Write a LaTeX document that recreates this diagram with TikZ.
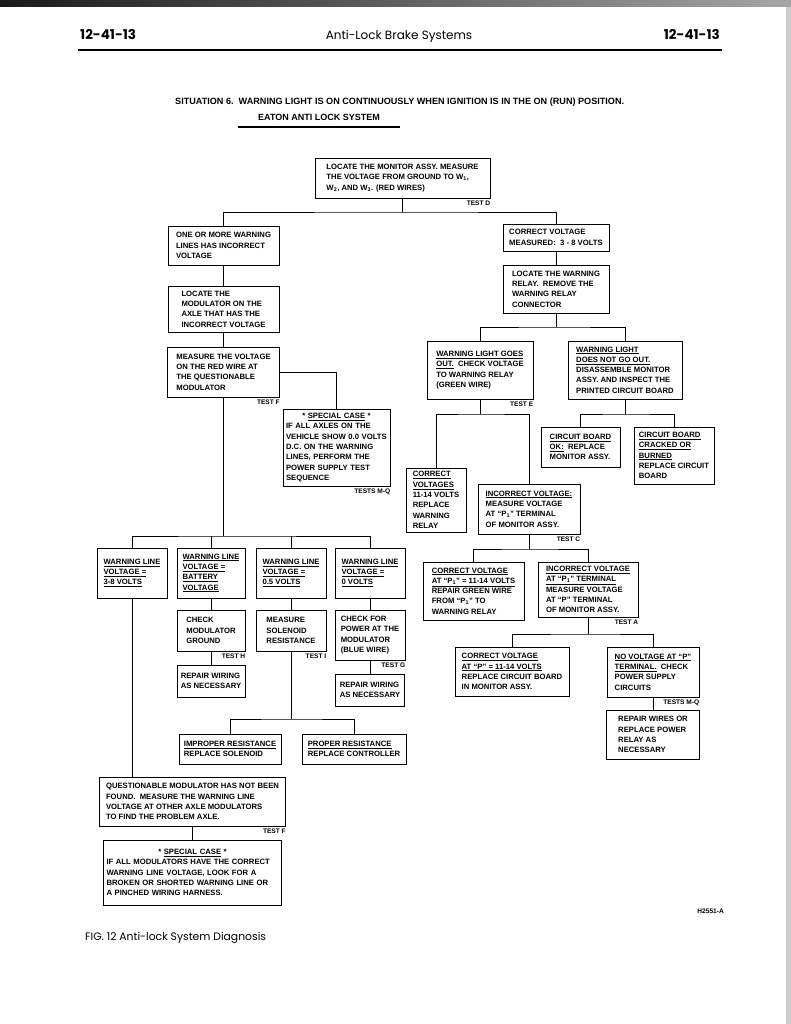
\documentclass[tikz,border=0pt]{standalone}
\usepackage{fontspec}
\setmainfont{Liberation Sans}
\newfontfamily\hdfont{Poppins}
\usetikzlibrary{positioning}
\tikzstyle{box}=[draw, line width=0.9pt, align=left, inner sep=3pt, font=\fontsize{7.7}{10.3}\selectfont\bfseries]
\tikzstyle{tst}=[inner sep=0pt, font=\fontsize{6.6}{8}\selectfont\bfseries]
\tikzstyle{wire}=[line width=0.9pt]

\begin{document}
\begin{tikzpicture}[x=1pt,y=-1pt]
    \useasboundingbox (0,0) rectangle (791,1024);
    % scan edges
    \fill[left color=black!90, right color=black!35] (0,0) rectangle (791,7);
    \fill[black!20] (786,7) rectangle (791,1024);

    % page header
    \node[anchor=base west, inner sep=0pt, font=\hdfont\fontsize{13.5}{15}\selectfont\bfseries] (pgl) at (80,40) {12-41-13};
    \node[anchor=base east, inner sep=0pt, font=\hdfont\fontsize{13.5}{15}\selectfont\bfseries] (pgr) at (720,40) {12-41-13};
    \node[anchor=base, inner sep=0pt, font=\hdfont\fontsize{12}{14}\selectfont] (hd) at (399,40) {Anti-Lock Brake Systems};
    \draw[line width=1.6pt] (78,50) -- (722,50);

    % title
    \node[anchor=base west, inner sep=0pt, font=\fontsize{9.1}{11}\selectfont\bfseries] (sit) at (175,105)
        {SITUATION 6.\ \ WARNING LIGHT IS ON CONTINUOUSLY WHEN IGNITION IS IN THE ON (RUN) POSITION.};
    \node[anchor=base west, inner sep=0pt, font=\fontsize{9}{11}\selectfont\bfseries] (eaton) at (258,121) {EATON ANTI LOCK SYSTEM};
    \draw[line width=1.3pt] (238,127) -- (400,127);

    % Test D
    \node[box, minimum width=175pt, minimum height=40pt] (top) at (402.5,178)
        {LOCATE THE MONITOR ASSY. MEASURE\\THE VOLTAGE FROM GROUND TO W\textsubscript{1},\\W\textsubscript{2}, AND W\textsubscript{3}. (RED WIRES)};
    \node[tst, below left=2pt and 0pt of top.south east] (tD) {TEST D};

    % left branch
    \node[box, minimum width=111pt, minimum height=39pt] (onemore) at (223.5,245.5)
        {ONE OR MORE WARNING\\LINES HAS INCORRECT\\VOLTAGE};
    \node[box, minimum width=111pt, minimum height=46pt] (locmod) at (223.5,309)
        {LOCATE THE\\MODULATOR ON THE\\AXLE THAT HAS THE\\INCORRECT VOLTAGE};
    \node[box, minimum width=112pt, minimum height=50pt] (measred) at (223.5,372)
        {MEASURE THE VOLTAGE\\ON THE RED WIRE AT\\THE QUESTIONABLE\\MODULATOR};
    \node[tst, below left=2pt and 0pt of measred.south east] (tF) {TEST F};
    \node[box, text width=101pt, minimum height=77pt] (spec1) at (336.5,447.5)
        {\makebox[\linewidth]{* \underline{SPECIAL CASE} *}\\IF ALL AXLES ON THE\\VEHICLE SHOW 0.0 VOLTS\\D.C. ON THE WARNING\\LINES, PERFORM THE\\POWER SUPPLY TEST\\SEQUENCE};
    \node[tst, below left=2pt and 0pt of spec1.south east] (tMQ1) {TESTS M-Q};

    % right branch
    \node[box, minimum width=106pt, minimum height=27pt] (corr38) at (556,237.5)
        {CORRECT VOLTAGE\\MEASURED:\ \ 3 - 8 VOLTS};
    \node[box, minimum width=106pt, minimum height=48pt] (relay) at (556,289)
        {LOCATE THE WARNING\\RELAY.\ \ REMOVE THE\\WARNING RELAY\\CONNECTOR};
    \node[box, minimum width=106pt, minimum height=58pt] (goesout) at (480,370)
        {\underline{WARNING LIGHT GOES}\\\underline{OUT.}\ \ CHECK VOLTAGE\\TO WARNING RELAY\\(GREEN WIRE)};
    \node[tst, below left=2pt and 0pt of goesout.south east] (tE) {TEST E};
    \node[box, minimum width=114pt, minimum height=58pt] (notout) at (625,370)
        {\underline{WARNING LIGHT}\\\underline{DOES NOT GO OUT.}\\DISASSEMBLE MONITOR\\ASSY. AND INSPECT THE\\PRINTED CIRCUIT BOARD};
    \node[box, minimum width=79pt, minimum height=40pt] (cbok) at (580.5,447)
        {\underline{CIRCUIT BOARD}\\\underline{OK:}\ \ REPLACE\\MONITOR ASSY.};
    \node[box, minimum width=80pt, minimum height=57pt] (cbbad) at (674,455.5)
        {\underline{CIRCUIT BOARD}\\\underline{CRACKED OR}\\\underline{BURNED}\\REPLACE CIRCUIT\\BOARD};
    \node[box, minimum width=60pt, minimum height=64pt] (corrv) at (436,500)
        {\underline{CORRECT}\\\underline{VOLTAGES}\\11-14 VOLTS\\REPLACE\\WARNING\\RELAY};
    \node[box, minimum width=102pt, minimum height=50pt] (incorrv) at (529,509)
        {\underline{INCORRECT VOLTAGE:}\\MEASURE VOLTAGE\\AT ``P\textsubscript{1}'' TERMINAL\\OF MONITOR ASSY.};
    \node[tst, below left=2pt and 0pt of incorrv.south east] (tC) {TEST C};
    \node[box, minimum width=101pt, minimum height=58pt] (corrp1) at (473.5,591)
        {\underline{CORRECT VOLTAGE}\\\underline{AT ``P\textsubscript{1}'' = 11-14 VOLTS}\\REPAIR GREEN WIRE\\FROM ``P\textsubscript{1}'' TO\\WARNING RELAY};
    \node[box, minimum width=100pt, minimum height=55pt] (incorrp1) at (588,589.5)
        {\underline{INCORRECT VOLTAGE}\\\underline{AT ``P\textsubscript{1}'' TERMINAL}\\MEASURE VOLTAGE\\AT ``P'' TERMINAL\\OF MONITOR ASSY.};
    \node[tst, below left=2pt and 0pt of incorrp1.south east] (tA) {TEST A};
    \node[box, minimum width=114pt, minimum height=49pt] (corrp) at (512,671.5)
        {\underline{CORRECT VOLTAGE}\\\underline{AT ``P'' = 11-14 VOLTS}\\REPLACE CIRCUIT BOARD\\IN MONITOR ASSY.};
    \node[box, minimum width=92pt, minimum height=50pt] (nop) at (653,672)
        {\underline{NO VOLTAGE AT ``P''}\\\underline{TERMINAL.}\ \ CHECK\\POWER SUPPLY\\CIRCUITS};
    \node[tst, below left=2pt and 0pt of nop.south east] (tMQ2) {TESTS M-Q};
    \node[box, minimum width=93pt, minimum height=49pt] (repair3) at (653,734.5)
        {REPAIR WIRES OR\\REPLACE POWER\\RELAY AS\\NECESSARY};

    % warning line voltages
    \node[box, minimum width=70pt, minimum height=50pt] (v38) at (132,573)
        {\underline{WARNING LINE}\\\underline{VOLTAGE =}\\\underline{3-8 VOLTS}};
    \node[box, minimum width=68pt, minimum height=50pt] (vbat) at (211,573)
        {\underline{WARNING LINE}\\\underline{VOLTAGE =}\\\underline{BATTERY}\\\underline{VOLTAGE}};
    \node[box, minimum width=70pt, minimum height=50pt] (v05) at (291,573)
        {\underline{WARNING LINE}\\\underline{VOLTAGE =}\\\underline{0.5 VOLTS}};
    \node[box, minimum width=70pt, minimum height=50pt] (v0) at (370,573)
        {\underline{WARNING LINE}\\\underline{VOLTAGE =}\\\underline{0 VOLTS}};
    \node[box, minimum width=68pt, minimum height=41pt] (chkgnd) at (211,630.5)
        {CHECK\\MODULATOR\\GROUND};
    \node[tst, below left=2pt and 0pt of chkgnd.south east] (tH) {TEST H};
    \node[box, minimum width=70pt, minimum height=41pt] (meassol) at (291,630.5)
        {MEASURE\\SOLENOID\\RESISTANCE};
    \node[tst, below left=2pt and 0pt of meassol.south east] (tI) {TEST I};
    \node[box, minimum width=70pt, minimum height=50pt] (chkpow) at (370,635)
        {CHECK FOR\\POWER AT THE\\MODULATOR\\(BLUE WIRE)};
    \node[tst, below left=2pt and 0pt of chkpow.south east] (tG) {TEST G};
    \node[box, minimum width=68pt, minimum height=32pt] (repair1) at (211,681)
        {REPAIR WIRING\\AS NECESSARY};
    \node[box, minimum width=69pt, minimum height=32pt] (repair2) at (370,690)
        {REPAIR WIRING\\AS NECESSARY};
    \node[box, minimum width=102pt, minimum height=30pt] (improper) at (230,749)
        {\underline{IMPROPER RESISTANCE}\\REPLACE SOLENOID};
    \node[box, minimum width=104pt, minimum height=30pt] (proper) at (354,749)
        {\underline{PROPER RESISTANCE}\\REPLACE CONTROLLER};

    % other axles
    \node[box, minimum width=186pt, minimum height=49pt] (quest) at (192.5,801.5)
        {QUESTIONABLE MODULATOR HAS NOT BEEN\\FOUND.\ \ MEASURE THE WARNING LINE\\VOLTAGE AT OTHER AXLE MODULATORS\\TO FIND THE PROBLEM AXLE.};
    \node[tst, below left=2pt and 0pt of quest.south east] (tF2) {TEST F};
    \node[box, text width=172pt, minimum height=65pt] (spec2) at (192.5,872.5)
        {\makebox[\linewidth]{* \underline{SPECIAL CASE} *}\\IF ALL MODULATORS HAVE THE CORRECT\\WARNING LINE VOLTAGE, LOOK FOR A\\BROKEN OR SHORTED WARNING LINE OR\\A PINCHED WIRING HARNESS.};

    % connectors
    \coordinate (jD) at (0,212);
    \draw[wire] (top.south) -- (top.south |- jD);
    \draw[wire] (onemore.north) |- (top.south |- jD) -| (corr38.north);
    \draw[wire] (onemore.south) -- (locmod.north);
    \draw[wire] (locmod.south) -- (measred.north);
    \draw[wire] (measred.east) -| (spec1.north);
    \coordinate (jF) at (0,536);
    \draw[wire] (measred.south) -- (measred.south |- jF);
    \draw[wire] (v38.north) |- (measred.south |- jF) -| (v0.north);
    \draw[wire] (vbat.north) -- (vbat.north |- jF);
    \draw[wire] (v05.north) -- (v05.north |- jF);
    \draw[wire] (vbat.south) -- (chkgnd.north);
    \draw[wire] (chkgnd.south) -- (repair1.north);
    \draw[wire] (v05.south) -- (meassol.north);
    \coordinate (jI) at (0,719);
    \draw[wire] (meassol.south) -- (meassol.south |- jI);
    \draw[wire] (improper.north) |- (meassol.south |- jI) -| (proper.north);
    \draw[wire] (v0.south) -- (chkpow.north);
    \draw[wire] (chkpow.south) -- (repair2.north);
    \draw[wire] (v38.south) -- (v38.south |- quest.north);
    \draw[wire] (quest.south) -- (spec2.north);

    \draw[wire] (corr38.south) -- (relay.north);
    \coordinate (jR) at (0,327);
    \draw[wire] (relay.south) -- (relay.south |- jR);
    \draw[wire] (goesout.north) |- (relay.south |- jR) -| (notout.north);
    \coordinate (jE) at (0,414);
    \draw[wire] (goesout.south) -- (goesout.south |- jE);
    \draw[wire] (corrv.north) |- (goesout.south |- jE) -| (incorrv.north);
    \draw[wire] (notout.south) -- (notout.south |- jE);
    \draw[wire] (cbok.north) |- (notout.south |- jE) -| (cbbad.north);
    \coordinate (jC) at (0,549);
    \draw[wire] (incorrv.south) -- (incorrv.south |- jC);
    \draw[wire] (corrp1.north) |- (incorrv.south |- jC) -| (incorrp1.north);
    \coordinate (jA) at (0,634);
    \draw[wire] (incorrp1.south) -- (incorrp1.south |- jA);
    \draw[wire] (corrp.north) |- (incorrp1.south |- jA) -| (nop.north);
    \draw[wire] (nop.south) -- (repair3.north);

    % figure caption
    \node[anchor=base east, inner sep=0pt, font=\fontsize{6.6}{8}\selectfont\bfseries] (fignum) at (724,913) {H2551-A};
    \node[anchor=base west, inner sep=0pt, font=\hdfont\fontsize{10.8}{12}\selectfont] (cap) at (85,940) {FIG. 12 Anti-lock System Diagnosis};
\end{tikzpicture}
\end{document}
